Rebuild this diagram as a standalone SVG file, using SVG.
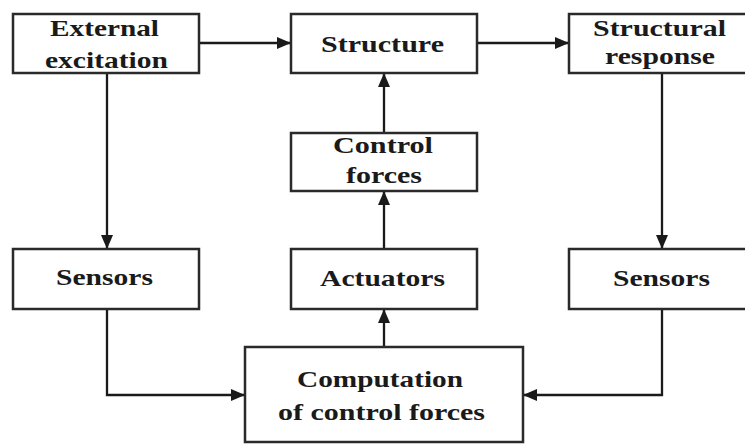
<svg xmlns="http://www.w3.org/2000/svg" width="745" height="444" viewBox="0 0 745 444">
<defs>
<marker id="ah" viewBox="0 0 14 12" refX="14" refY="6" markerWidth="14" markerHeight="12" markerUnits="userSpaceOnUse" orient="auto">
<path d="M0,0 L14,6 L0,12 Z" fill="#1a1a1a"/>
</marker>
</defs>
<style>
.box{fill:#fff;stroke:#2a2a2a;stroke-width:2.5}
.t{font-family:"Liberation Serif","Times New Roman",serif;font-weight:bold;font-size:23px;fill:#1a1a1a}
.c{fill:none;stroke:#1a1a1a;stroke-width:2.3;marker-end:url(#ah)}
</style>
<rect width="745" height="444" fill="#fff"/>
<g id="connectors">
<path class="c" d="M199,43 H291"/>
<path class="c" d="M477,43 H569"/>
<path class="c" d="M107,73 V249"/>
<path class="c" d="M662,73 V249"/>
<path class="c" d="M384,133 V73"/>
<path class="c" d="M384,249 V191"/>
<path class="c" d="M384,347 V309"/>
<path class="c" d="M107,309 V395 H245"/>
<path class="c" d="M662,309 V395 H523"/>
</g>
<g id="external">
<rect class="box" x="13" y="14" width="186" height="59"/>
<text class="t" x="50" y="36" textLength="109" lengthAdjust="spacingAndGlyphs">External</text>
<text class="t" x="45" y="68" textLength="123" lengthAdjust="spacingAndGlyphs">excitation</text>
</g>
<g id="structure">
<rect class="box" x="291" y="14" width="186" height="59"/>
<text class="t" x="321" y="52" textLength="123" lengthAdjust="spacingAndGlyphs">Structure</text>
</g>
<g id="response">
<rect class="box" x="569" y="14" width="186" height="59"/>
<text class="t" x="593" y="36" textLength="133" lengthAdjust="spacingAndGlyphs">Structural</text>
<text class="t" x="605" y="64" textLength="110" lengthAdjust="spacingAndGlyphs">response</text>
</g>
<g id="control">
<rect class="box" x="291" y="133" width="186" height="58"/>
<text class="t" x="333" y="153" textLength="100" lengthAdjust="spacingAndGlyphs">Control</text>
<text class="t" x="346" y="183" textLength="76" lengthAdjust="spacingAndGlyphs">forces</text>
</g>
<g id="sensors-left">
<rect class="box" x="13" y="249" width="186" height="60"/>
<text class="t" x="56" y="285" textLength="97" lengthAdjust="spacingAndGlyphs">Sensors</text>
</g>
<g id="actuators">
<rect class="box" x="291" y="249" width="186" height="60"/>
<text class="t" x="320" y="286" textLength="125" lengthAdjust="spacingAndGlyphs">Actuators</text>
</g>
<g id="sensors-right">
<rect class="box" x="569" y="249" width="186" height="60"/>
<text class="t" x="613" y="286" textLength="97" lengthAdjust="spacingAndGlyphs">Sensors</text>
</g>
<g id="computation">
<rect class="box" x="245" y="347" width="278" height="95"/>
<text class="t" x="297" y="387" textLength="166" lengthAdjust="spacingAndGlyphs">Computation</text>
<text class="t" x="278" y="420" textLength="207" lengthAdjust="spacingAndGlyphs">of control forces</text>
</g>
</svg>
